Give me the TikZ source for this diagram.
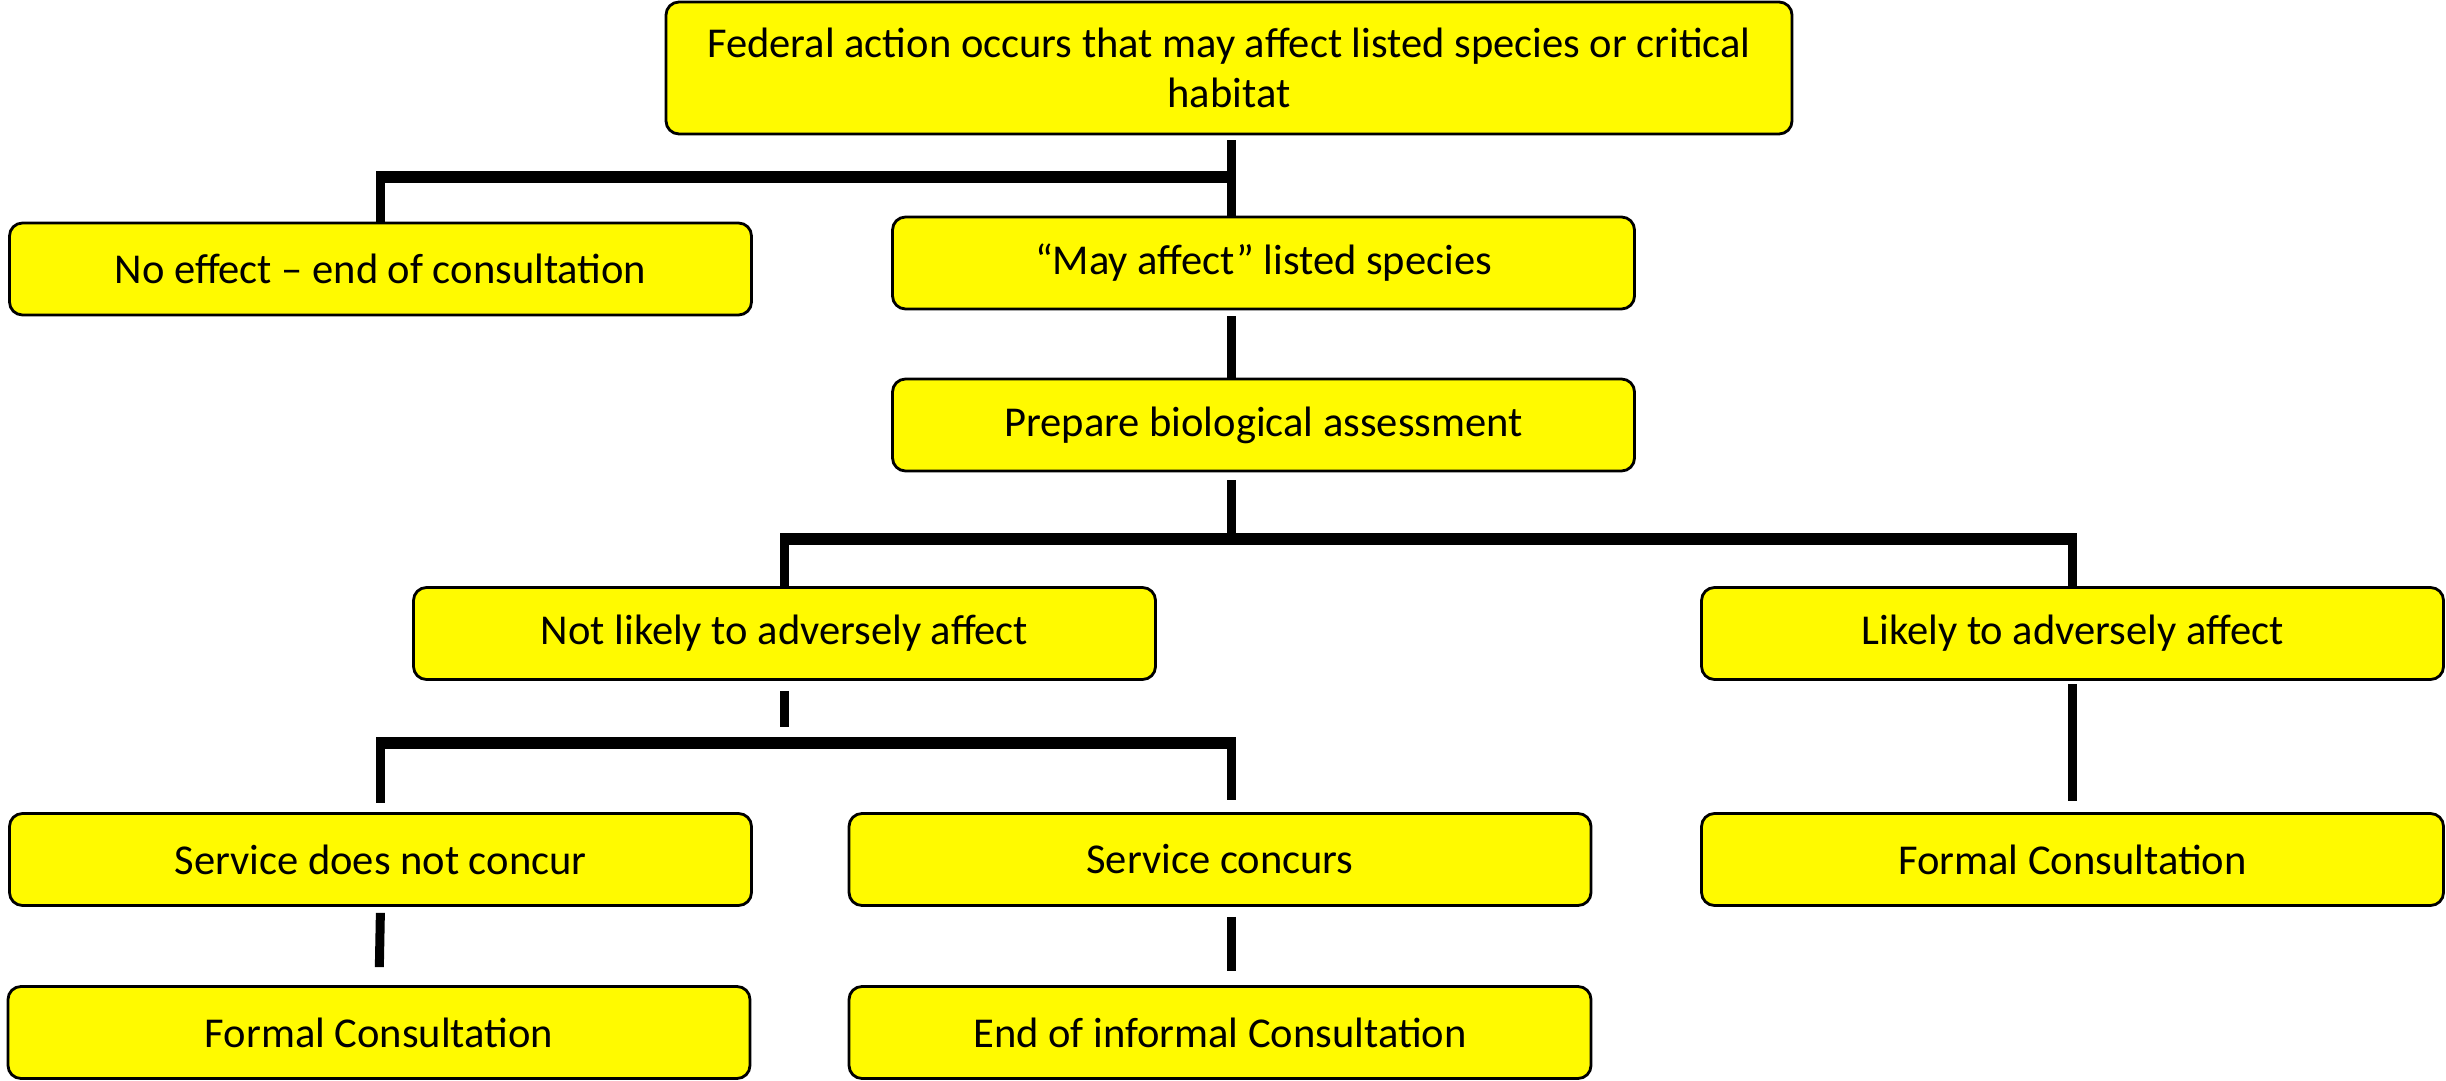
\documentclass[tikz,border=0pt]{standalone}
\usepackage{fontspec}
\setmainfont{Carlito}
\usepackage{xcolor}
\definecolor{boxyellow}{RGB}{255,250,0}

\begin{document}
\begin{tikzpicture}[box/.style={draw=black, line width=0.8pt, fill=boxyellow, rounded corners=1.3mm,
      minimum width=74.2cm/10, minimum height=9.2mm, inner sep=0pt, align=center,
      font=\fontsize{12.1}{14.2}\selectfont},
    conn/.style={line width=0.09cm},
    bar/.style={line width=0.12cm, shorten <=-0.045cm, shorten >=-0.045cm}]
    \useasboundingbox (0,0) rectangle (24.46,-10.81);
    \node[box, minimum width=112.6mm, minimum height=13.2mm] (fedaction) at (12.29,-0.68) {Federal action occurs that may affect listed species or critical\\habitat};
    \node[box] (noeffect) at (3.805,-2.69) {No effect – end of consultation};
    \node[box] (mayaffect) at (12.635,-2.63) {“May affect” listed species};
    \node[box] (bioassess) at (12.635,-4.25) {Prepare biological assessment};
    \node[box] (notlikely) at (7.845,-6.335) {Not likely to adversely affect};
    \node[box] (likely) at (20.725,-6.335) {Likely to adversely affect};
    \node[box] (noconcur) at (3.805,-8.595) {Service does not concur};
    \node[box] (concurs) at (12.20,-8.595) {Service concurs};
    \node[box] (formalright) at (20.725,-8.595) {Formal Consultation};
    \node[box] (formalleft) at (3.79,-10.325) {Formal Consultation};
    \node[box] (endinformal) at (12.20,-10.325) {End of informal Consultation};
    \coordinate (spine) at (12.31,0);
    \coordinate (topbar) at (0,-1.77);
    \coordinate (midbar) at (0,-5.39);
    \coordinate (lowbar) at (0,-7.43);
    \draw[conn, shorten <=0.05cm] (fedaction.south -| spine) -- (mayaffect.north -| spine);
    \draw[bar] (topbar -| noeffect.north) -- (topbar -| spine);
    \draw[conn] (topbar -| noeffect.north) -- (noeffect.north);
    \draw[conn, shorten <=0.06cm] (mayaffect.south -| spine) -- (bioassess.north -| spine);
    \draw[conn, shorten <=0.08cm] (bioassess.south -| spine) -- (midbar -| spine);
    \draw[bar] (midbar -| notlikely.north) -- (midbar -| likely.north);
    \draw[conn] (midbar -| notlikely.north) -- (notlikely.north);
    \draw[conn] (midbar -| likely.north) -- (likely.north);
    \draw[conn, shorten <=0.1cm, shorten >=0.16cm] (notlikely.south) -- (notlikely.south |- lowbar);
    \draw[bar] (lowbar -| noconcur.north) -- (lowbar -| spine);
    \draw[conn, shorten >=0.09cm] (lowbar -| noconcur.north) -- (noconcur.north);
    \draw[conn, shorten >=0.12cm] (lowbar -| spine) -- (concurs.north -| spine);
    \draw[conn, shorten <=0.06cm, shorten >=0.18cm] (noconcur.south) -- (formalleft.north);
    \draw[conn, shorten <=0.1cm, shorten >=0.14cm] (concurs.south -| spine) -- (endinformal.north -| spine);
    \draw[conn, shorten <=0.03cm, shorten >=0.11cm] (likely.south) -- (formalright.north);
\end{tikzpicture}
\end{document}
